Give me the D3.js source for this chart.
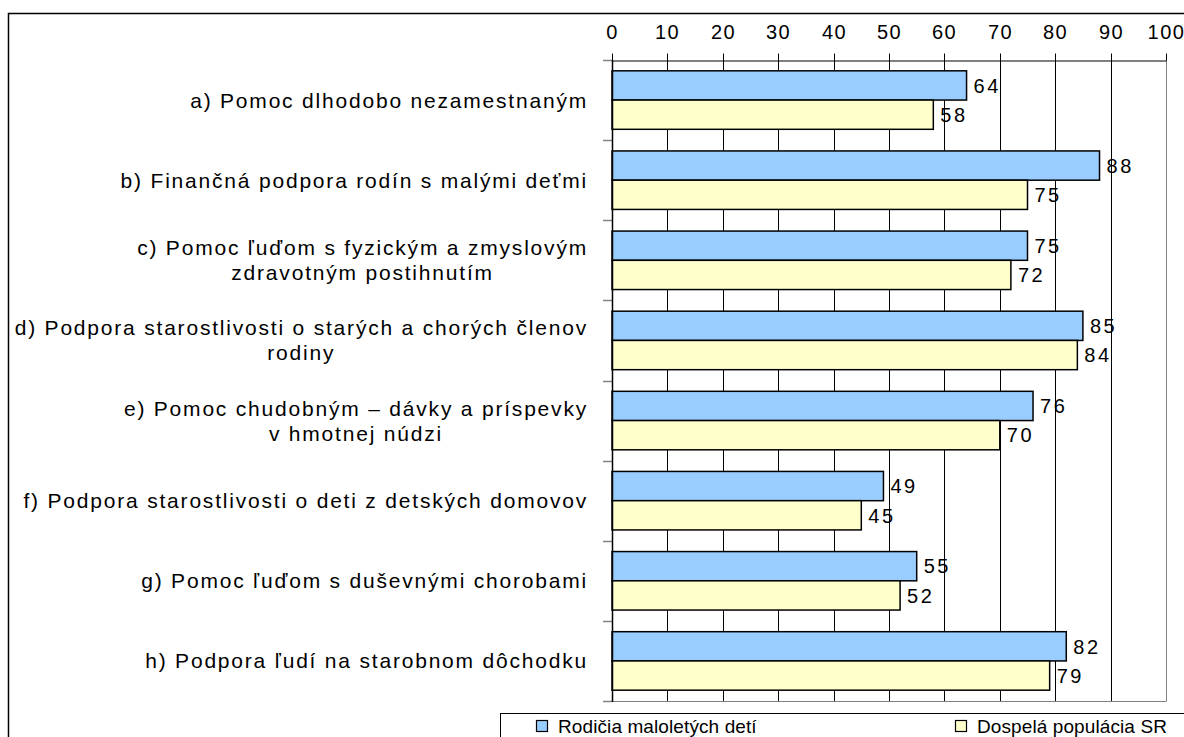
<!DOCTYPE html>
<html>
<head>
<meta charset="utf-8">
<script src="https://cdn.jsdelivr.net/npm/d3@7"></script>
<style>
  body { margin: 0; background: #fff; }
  svg text { font-family: "Liberation Sans", Arial, sans-serif; fill: #000; }
</style>
</head>
<body>
<svg id="chart"></svg>
<script>
// category labels, one entry per line of the wrapped label
const categories = [
    ["a) Pomoc dlhodobo nezamestnaným"],
    ["b) Finančná podpora rodín s malými deťmi"],
    ["c) Pomoc ľuďom s fyzickým a zmyslovým", "zdravotným postihnutím"],
    ["d) Podpora starostlivosti o starých a chorých členov", "rodiny"],
    ["e) Pomoc chudobným – dávky a príspevky", "v hmotnej núdzi"],
    ["f) Podpora starostlivosti o deti z detských domovov"],
    ["g) Pomoc ľuďom s duševnými chorobami"],
    ["h) Podpora ľudí na starobnom dôchodku"]
]
const seriesNames = ["Rodičia maloletých detí", "Dospelá populácia SR"]
const parents = [64, 88, 75, 85, 76, 49, 55, 82]
const adults = [58, 75, 72, 84, 70, 45, 52, 79]
const xTicks = [0, 10, 20, 30, 40, 50, 60, 70, 80, 90, 100]

const width = 1184, height = 737
const margin = {top: 60, left: 612, right: 18, bottom: 36}
const colors = ["#99ccff", "#ffffcc"]
const fontSize = 21

const svg = d3.select("#chart")
    .attr("width", width)
    .attr("height", height)

// outer frame of the chart object
svg.append("rect")
    .attr("x", 8.5).attr("y", 13.5)
    .attr("width", 1300).attr("height", 800)
    .attr("fill", "none")
    .attr("stroke", "#000")
    .attr("stroke-width", 1.5)

const x = d3.scaleLinear()
    .domain([0, 100])
    .range([margin.left, width - margin.right])

const y = d3.scaleBand()
    .domain(d3.range(categories.length))
    .range([margin.top, height - margin.bottom])

const inner = d3.scaleBand()
    .domain([0, 1])
    .range([0, y.bandwidth()])
    .paddingOuter(0.37)
    .paddingInner(0)

// vertical gridlines
svg.append("g")
    .selectAll("line")
    .data(xTicks)
    .join("line")
    .attr("x1", d => Math.round(x(d)) + 0.5)
    .attr("x2", d => Math.round(x(d)) + 0.5)
    .attr("y1", margin.top)
    .attr("y2", height - margin.bottom)
    .attr("stroke", d => d == 100 ? "#808080" : "#000")
    .attr("stroke-width", 1)

// bottom edge of plot area
svg.append("line")
    .attr("x1", margin.left).attr("x2", Math.round(x(100)) + 0.5)
    .attr("y1", height - margin.bottom + 0.5).attr("y2", height - margin.bottom + 0.5)
    .attr("stroke", "#808080")

// top axis
const xAxis = svg.append("g")
    .attr("transform", `translate(0, ${margin.top + 0.5})`)
    .call(d3.axisTop(x).tickValues(xTicks).tickSize(7).tickPadding(15).tickSizeOuter(0))
xAxis.select(".domain").attr("stroke", "#000")
xAxis.selectAll(".tick line").attr("stroke", "#000")
xAxis.selectAll(".tick")
    .attr("transform", d => `translate(${Math.round(x(d)) + 0.5},0)`)
xAxis.selectAll("text")
    .attr("font-size", 20)
    .attr("letter-spacing", 1.5)
    .attr("font-family", null)

// left axis with ticks between categories
const bounds = d3.range(categories.length + 1).map(i => margin.top + i * y.bandwidth())
svg.append("g")
    .selectAll("line")
    .data(bounds)
    .join("line")
    .attr("x1", margin.left - 9).attr("x2", margin.left)
    .attr("y1", d => Math.round(d) + 0.5).attr("y2", d => Math.round(d) + 0.5)
    .attr("stroke", "#808080")
    .attr("stroke-width", 1.5)

// bars
const series = [parents, adults]
const groups = svg.append("g")
    .selectAll("g")
    .data(series)
    .join("g")
    .attr("fill", (d, i) => colors[i])

groups.selectAll("rect")
    .data((d, si) => d.map((v, ci) => ({v, ci, si})))
    .join("rect")
    .attr("x", x(0))
    .attr("y", d => y(d.ci) + inner(d.si))
    .attr("width", d => x(d.v) - x(0))
    .attr("height", inner.bandwidth())
    .attr("stroke", "#000")
    .attr("stroke-width", 1.5)

groups.selectAll("text")
    .data((d, si) => d.map((v, ci) => ({v, ci, si})))
    .join("text")
    .attr("x", d => x(d.v) + 7)
    .attr("y", d => y(d.ci) + inner(d.si) + inner.bandwidth() / 2)
    .attr("dy", "0.36em")
    .attr("font-size", 20)
    .attr("letter-spacing", 2.5)
    .text(d => d.v)

// left axis line drawn over the bars
svg.append("line")
    .attr("x1", margin.left + 0.5).attr("x2", margin.left + 0.5)
    .attr("y1", margin.top).attr("y2", height - margin.bottom + 1)
    .attr("stroke", "#000")
    .attr("stroke-width", 1.5)

// category labels: block right aligned, lines centered inside the block
const labelRight = 588
const lineH = 25
const labels = svg.append("g")
    .selectAll("text")
    .data(categories)
    .join("text")
    .attr("font-size", fontSize)
    .attr("letter-spacing", 1.8)
    .attr("text-anchor", "middle")

labels.each(function(lines, i) {
    const t = d3.select(this)
    const cy = y(i) + y.bandwidth() / 2
    lines.forEach((l, k) => {
        t.append("tspan")
            .attr("y", cy + (k - (lines.length - 1) / 2) * lineH)
            .attr("dy", "0.36em")
            .text(l)
    })
    const w = d3.max(t.selectAll("tspan").nodes(), n => n.getComputedTextLength())
    t.selectAll("tspan").attr("x", labelRight - w / 2)
})

// legend
const legend = svg.append("g")
legend.append("rect")
    .attr("x", 500.5).attr("y", 713.5)
    .attr("width", 800).attr("height", 60)
    .attr("fill", "#fff")
    .attr("stroke", "#000")
const legendX = [536, 955]
const item = legend.selectAll("g")
    .data(seriesNames)
    .join("g")
    .attr("transform", (d, i) => `translate(${legendX[i]}, 720)`)
item.append("rect")
    .attr("x", 0.5).attr("y", 0.5)
    .attr("width", 11).attr("height", 11)
    .attr("fill", (d, i) => colors[i])
    .attr("stroke", "#000")
    .attr("stroke-width", 1.2)
item.append("text")
    .attr("x", 22)
    .attr("y", 13)
    .attr("font-size", 19)
    .attr("letter-spacing", 0.1)
    .text(d => d)
</script>
</body>
</html>
